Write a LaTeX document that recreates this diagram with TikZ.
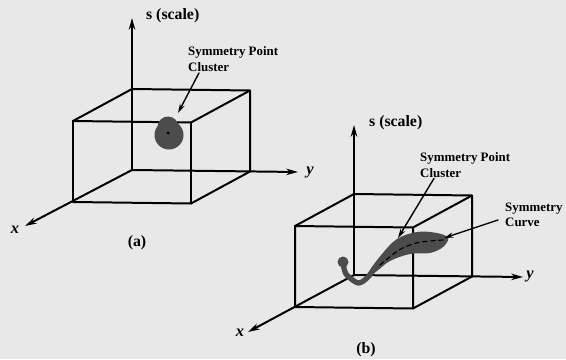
\documentclass[tikz,border=0pt]{standalone}
\usepackage{fontspec}
\setmainfont{Liberation Serif}
\usepackage{tikz}
\usetikzlibrary{calc}
\usetikzlibrary{arrows.meta}

\begin{document}
\begin{tikzpicture}[
        x=0.03cm, y=0.03cm,
        line cap=round,
        line join=round,
        edge/.style={line width=1.7pt},
        axis/.style={line width=1.7pt, -{Stealth[length=10pt,width=5.5pt]}},
        pointer/.style={line width=1.2pt, -{Stealth[length=8pt,width=4.5pt]}},
        axlabel/.style={font=\fontsize{13.5}{15}\selectfont\bfseries},
        varlabel/.style={font=\fontsize{14}{16}\selectfont\bfseries\itshape},
        note/.style={font=\fontsize{11}{13}\selectfont\bfseries, align=left, inner sep=0pt},
        blob/.style={fill=black!70}
    ]
        \fill[black!9] (0,0) rectangle (566,359);
        \useasboundingbox (0,0) rectangle (566,359);

        % Primo box: (a)
        \begin{scope}[shift={(132,189)}]
            \coordinate (a0) at (0,0);
            \coordinate (a1) at (118,-1.5);
            \coordinate (a2) at (118,79.5);
            \coordinate (a3) at (0,81);
            \coordinate (a4) at (-59,-32);
            \coordinate (a5) at (59,-33.5);
            \coordinate (a6) at (59,47.5);
            \coordinate (a7) at (-59,49);

            \coordinate (as) at (0,152);
            \coordinate (ay) at (166,-2);
            \coordinate (ax) at (-107,-56);

            \draw[axis] (a0) -- (as);
            \draw[axis] (a0) -- (ay);
            \draw[axis] (a0) -- (ax);

            \draw[edge] (a3)--(a2)--(a1);
            \draw[edge] (a7)--(a6)--(a5)--(a4)--cycle;
            \draw[edge] (a7)--(a3);
            \draw[edge] (a6)--(a2);
            \draw[edge] (a5)--(a1);

            \node[axlabel, anchor=west] (aslab) at (10,154) {s (scale)};
            \node[varlabel] (aylab) at (178,-3) {y};
            \node[varlabel] (axlab) at (-117,-60) {x};
            \node[axlabel] (acap) at (5,-73) {(a)};

            % cluster di punti
            \fill[blob] (37,35) circle (14.5);
            \fill[blob] (36,43) circle (10.5);
            \fill[black] (36,37) circle (1.5);
            \coordinate (atip) at (46,57);

            \node[note, anchor=west] (anote) at (56,111) {Symmetry Point\\Cluster};
            \draw[pointer] ($(anote.south west)+(11,-1.5)$) -- (atip);
        \end{scope}

        % Secondo box: (b)
        \begin{scope}[shift={(354,84)}]
            \coordinate (b0) at (0,0);
            \coordinate (b1) at (118,-1.5);
            \coordinate (b2) at (118,79.5);
            \coordinate (b3) at (0,81);
            \coordinate (b4) at (-59,-32);
            \coordinate (b5) at (59,-33.5);
            \coordinate (b6) at (59,47.5);
            \coordinate (b7) at (-59,49);

            \coordinate (bs) at (0,150);
            \coordinate (by) at (169,-2);
            \coordinate (bx) at (-106,-57);

            \draw[axis] (b0) -- (bs);
            \draw[axis] (b0) -- (by);
            \draw[axis] (b0) -- (bx);

            \draw[edge] (b3)--(b2)--(b1);
            \draw[edge] (b7)--(b6)--(b5)--(b4)--cycle;
            \draw[edge] (b7)--(b3);
            \draw[edge] (b6)--(b2);
            \draw[edge] (b5)--(b1);

            \node[axlabel, anchor=west] (bslab) at (11,152) {s (scale)};
            \node[varlabel] (bylab) at (176,-2) {y};
            \node[varlabel] (bxlab) at (-114,-58) {x};
            \node[axlabel] (bcap) at (12,-75) {(b)};

            % curva di simmetria
            \draw[black!70, line width=4.5pt] plot[smooth] coordinates {(-11,13) (-8,1) (4,-8) (13,-3) (20,6)};
            \fill[blob] (-11,13) circle (5.5);
            \fill[blob] plot[smooth cycle, tension=0.6] coordinates {(16,5) (28,21) (43,36) (63,43) (83,42) (94,37) (89,28) (76,22) (56,21) (36,14) (23,4) (14,-2)};
            \draw[line width=1pt, dash pattern=on 4pt off 3pt] plot[smooth] coordinates {(26,10) (45,25) (62,32) (76,34) (89,35)};
            \coordinate (btip) at (44,37);
            \coordinate (ctip) at (90,37);

            \node[note, anchor=west] (bnote) at (66,110) {Symmetry Point\\Cluster};
            \draw[pointer] ($(bnote.south west)+(14,-1)$) -- (btip);

            \node[note, anchor=west] (cnote) at (151,60) {Symmetry\\Curve};
            \draw[pointer] ($(cnote.west)+(-7,-5)$) -- (ctip);
        \end{scope}
    \end{tikzpicture}
\end{document}
